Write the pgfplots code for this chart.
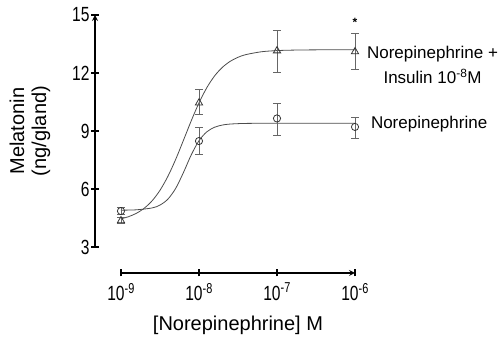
\documentclass[border=0pt]{standalone}
\usepackage{pgfplots}
\pgfplotsset{compat=1.18}
\usepackage{fontspec}
\setmainfont{Liberation Sans}
\newcommand{\tickfont}{\fontsize{20.5}{22}\selectfont}
\begin{document}
\begin{tikzpicture}
\path[use as bounding box] (0,0) rectangle (503pt,344pt);
\pgfplotsset{
  myaxis/.style={
    scale only axis,
    tick align=outside,
    major tick length=7pt,
    axis line style={-, line width=1.6pt, black},
    every tick/.style={line width=1.6pt, black},
    every tick label/.append style={font=\tickfont, xscale=0.76},
    label style={font=\fontsize{20}{22}\selectfont},
    /pgf/number format/assume math mode=true,
  }
}
% y axis with data
\begin{axis}[myaxis,
  at={(95pt,97pt)}, anchor=south west,
  width=260pt, height=232pt,
  xmin=-9.333, xmax=-6, ymin=3, ymax=15,
  axis x line=none, axis y line=left,
  ytick={3,6,9,12,15},
  yticklabels={\tickfont 3,\tickfont 6,\tickfont 9,\tickfont 12,\tickfont 15},
  yticklabel style={xshift=1pt},
  ylabel={Melatonin\\(ng/gland)},
  ylabel style={align=center, at={(axis description cs:-0.25,0.5)}, anchor=center},
  clip=false]
% fitted curves
\addplot[gray!60!black, line width=0.8pt, smooth] coordinates {
(-9.0,4.904) (-8.8,4.924) (-8.6,5.021) (-8.5,5.168) (-8.4,5.470) (-8.3,6.022)
(-8.2,6.844) (-8.1,7.759) (-8.0,8.498) (-7.9,8.956) (-7.8,9.195) (-7.7,9.308)
(-7.6,9.359) (-7.4,9.392) (-7.0,9.40) (-6.5,9.40) (-6.0,9.40)};
\addplot[gray!60!black, line width=0.8pt, smooth] coordinates {
(-9.0,4.457) (-8.9,4.572) (-8.8,4.748) (-8.7,5.011) (-8.6,5.394) (-8.5,5.931)
(-8.4,6.643) (-8.3,7.519) (-8.2,8.512) (-8.1,9.521) (-8.0,10.454) (-7.9,11.239)
(-7.8,11.849) (-7.7,12.293) (-7.6,12.603) (-7.5,12.812) (-7.4,12.950) (-7.2,13.098)
(-7.0,13.159) (-6.8,13.183) (-6.5,13.197) (-6.0,13.20)};
% Norepinephrine (circles)
\addplot[only marks, mark=o, mark size=3.6pt, mark options={black!80, line width=0.8pt, fill=white},
  error bars/.cd, y dir=both, y explicit,
  error bar style={black!60, line width=0.9pt},
  error mark options={rotate=90, mark size=4pt, black!60, line width=0.9pt}]
coordinates {
(-9,4.86) += (0,0.2) -= (0,0.2)
(-8,8.48) += (0,0.68) -= (0,0.67)
(-7,9.65) += (0,0.75) -= (0,0.9)
(-6,9.21) += (0,0.5) -= (0,0.6)};
% Norepinephrine + Insulin (triangles)
\addplot[only marks, mark=triangle, mark size=4.2pt, mark options={black!80, line width=0.8pt, fill=white},
  error bars/.cd, y dir=both, y explicit,
  error bar style={black!60, line width=0.9pt},
  error mark options={rotate=90, mark size=4pt, black!60, line width=0.9pt}]
coordinates {
(-9,4.36) += (0,0.15) -= (0,0.15)
(-8,10.45) += (0,0.72) -= (0,0.57)
(-7,13.15) += (0,1.05) -= (0,1.1)
(-6,13.1) += (0,0.95) -= (0,0.9)};
\node[font=\fontsize{12}{12}\selectfont\bfseries] at (axis cs:-6,14.62) {*};
\node[align=center, font=\fontsize{17}{25}\selectfont] at (axis cs:-5.006,12.41)
  {Norepinephrine +\\Insulin 10\textsuperscript{-8}M};
\node[anchor=west, font=\fontsize{17}{20}\selectfont] at (axis cs:-5.84,9.36) {Norepinephrine};
\end{axis}
% x axis
\begin{axis}[myaxis,
  at={(121pt,71pt)}, anchor=south west,
  width=234pt, height=10pt,
  xmin=-9, xmax=-6, ymin=0, ymax=1,
  axis x line=bottom, axis y line=none,
  xtick={-9,-8,-7,-6},
  xticklabel style={yshift=-3pt},
  xticklabels={\tickfont 10\textsuperscript{-9},\tickfont 10\textsuperscript{-8},\tickfont 10\textsuperscript{-7},\tickfont 10\textsuperscript{-6}},
  xlabel={[Norepinephrine] M},
  xlabel style={at={(axis description cs:0.5,-5.2)}, anchor=center}]
\end{axis}
\end{tikzpicture}
\end{document}
